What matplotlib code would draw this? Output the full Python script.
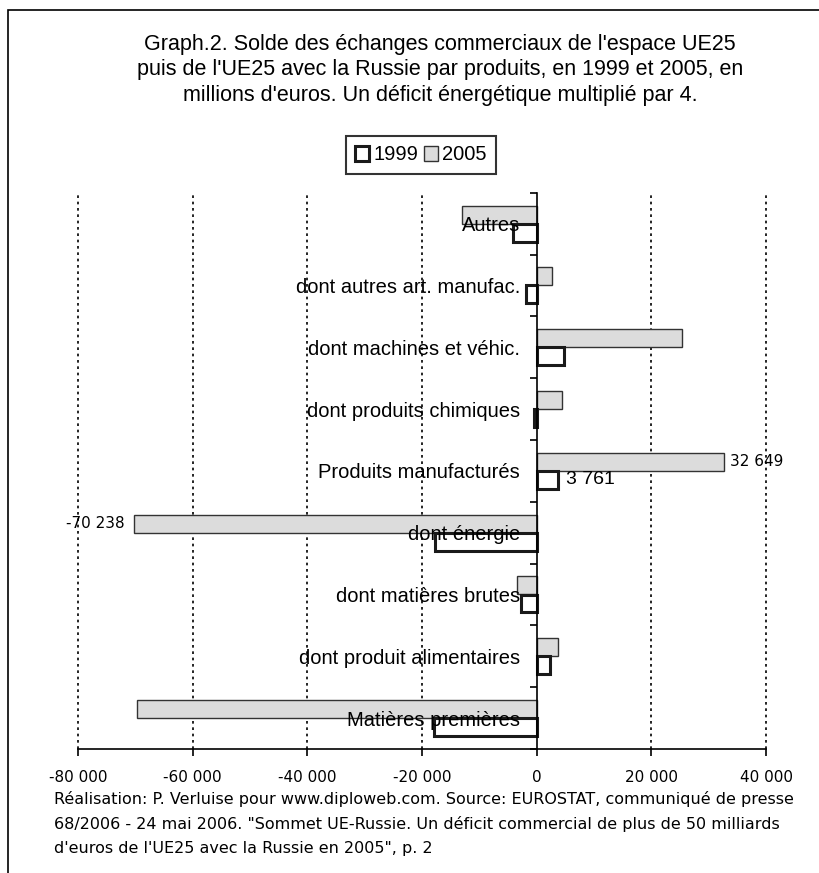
import matplotlib
matplotlib.use('Agg')
import numpy as np
import matplotlib.pyplot as plt
from matplotlib.patches import Patch, Rectangle
from matplotlib.ticker import FuncFormatter, FixedLocator


# products, listed from the bottom of the chart to the top
categories = [
    'Matières premières',
    'dont produit alimentaires',
    'dont matières brutes',
    'dont énergie',
    'Produits manufacturés',
    'dont produits chimiques',
    'dont machines et véhic.',
    'dont autres art. manufac.',
    'Autres',
]
# trade balance, millions of euros
solde_1999 = [-17900, 2300, -2800, -17800, 3761, -400, 4800, -1900, -4200]
solde_2005 = [-69700, 3800, -3500, -70238, 32649, 4400, 25400, 2700, -13000]

title = ("Graph.2. Solde des échanges commerciaux de l'espace UE25\n"
         "puis de l'UE25 avec la Russie par produits, en 1999 et 2005, en\n"
         "millions d'euros. Un déficit énergétique multiplié par 4.")
source = ["Réalisation: P. Verluise pour www.diploweb.com. Source: EUROSTAT, communiqué de presse",
          "68/2006 - 24 mai 2006. \"Sommet UE-Russie. Un déficit commercial de plus de 50 milliards",
          "d'euros de l'UE25 avec la Russie en 2005\", p. 2"]

W, H = 819, 873
fig = plt.figure(figsize=(W / 100, H / 100), dpi=100)
plt.rcParams['font.family'] = 'Liberation Sans'


def fmt(v):
    return f'{int(v):,}'.replace(',', ' ')


# outer frame (only top and left edges are visible)
fig.add_artist(Rectangle((8 / W, -0.05), 1.1, 1 - 10 / H + 0.05, transform=fig.transFigure,
                         fill=False, edgecolor='black', linewidth=1.2))

fig.text(440 / W, 1 - 70 / H, title, ha='center', va='center', fontsize=15.5,
         linespacing=1.3)

ax = fig.add_axes([78 / W, 1 - 749 / H, (766 - 78) / W, (749 - 192.7) / H])
ax.set_axisbelow(False)

pos = np.arange(len(categories)) + 0.5
bh = 0.29
off = 0.146
ax.barh(pos + off, solde_2005, height=bh, color='#dcdcdc', edgecolor='#333333',
        linewidth=1.0, zorder=2)
ax.barh(pos - off, solde_1999, height=bh, color='white', edgecolor='#1a1a1a',
        linewidth=2.2, zorder=2)

ax.set_xlim(-80000, 40000)
ax.set_ylim(0, len(categories))

# dotted vertical gridlines
for g in [-80000, -60000, -40000, -20000, 20000, 40000]:
    ax.axvline(g, color='black', linestyle=(0, (1.6, 2.2)), linewidth=1.2, zorder=1,
               clip_on=False)

for s in ['top', 'right']:
    ax.spines[s].set_visible(False)
ax.spines['left'].set_position(('data', 0))
ax.spines['left'].set_linewidth(1.2)
ax.spines['bottom'].set_linewidth(1.2)

ax.set_xticks(np.arange(-80000, 40001, 20000))
ax.xaxis.set_major_formatter(FuncFormatter(lambda v, p: fmt(v)))
ax.tick_params(axis='x', direction='out', length=5, width=1.2, pad=10)
for lab in ax.get_xticklabels():
    lab.set_family('DejaVu Sans')
    lab.set_fontsize(11)

ax.set_yticks(pos)
ax.set_yticklabels(categories, fontsize=14.5)
ax.yaxis.set_minor_locator(FixedLocator(np.arange(len(categories) + 1)))
ax.tick_params(axis='y', which='major', length=0, pad=12)
ax.tick_params(axis='y', which='minor', direction='out', length=5, width=1.2)

# value labels
i_man = categories.index('Produits manufacturés')
i_en = categories.index('dont énergie')
ax.annotate(fmt(solde_1999[i_man]), (solde_1999[i_man], pos[i_man] - off),
            xytext=(8, 0), textcoords='offset pixels', va='center', ha='left', fontsize=14)
ax.annotate(fmt(solde_2005[i_man]), (solde_2005[i_man], pos[i_man] + off),
            xytext=(6, 0), textcoords='offset pixels', va='center', ha='left', fontsize=11,
            family='DejaVu Sans')
ax.annotate(fmt(solde_2005[i_en]), (solde_2005[i_en], pos[i_en] + off),
            xytext=(-9, 0), textcoords='offset pixels', va='center', ha='right', fontsize=11,
            family='DejaVu Sans')

handles = [Patch(facecolor='white', edgecolor='#1a1a1a', linewidth=2.2),
           Patch(facecolor='#dcdcdc', edgecolor='#333333', linewidth=1.0)]
leg = fig.legend(handles, ['1999', '2005'], loc='center', ncol=2,
                 bbox_to_anchor=(421 / W, 1 - 155 / H), fontsize=14.5, frameon=True,
                 fancybox=False, handlelength=0.7, handleheight=0.7, handletextpad=0.2,
                 columnspacing=0.3, borderpad=0.45, borderaxespad=0)
leg.get_frame().set_edgecolor('black')
leg.get_frame().set_linewidth(1.5)

for k, line in enumerate(source):
    fig.text(54 / W, 1 - (799 + 25 * k) / H, line, ha='left', va='center',
             fontsize=11.5, family='DejaVu Sans')

fig.savefig('out.png', dpi=100)
